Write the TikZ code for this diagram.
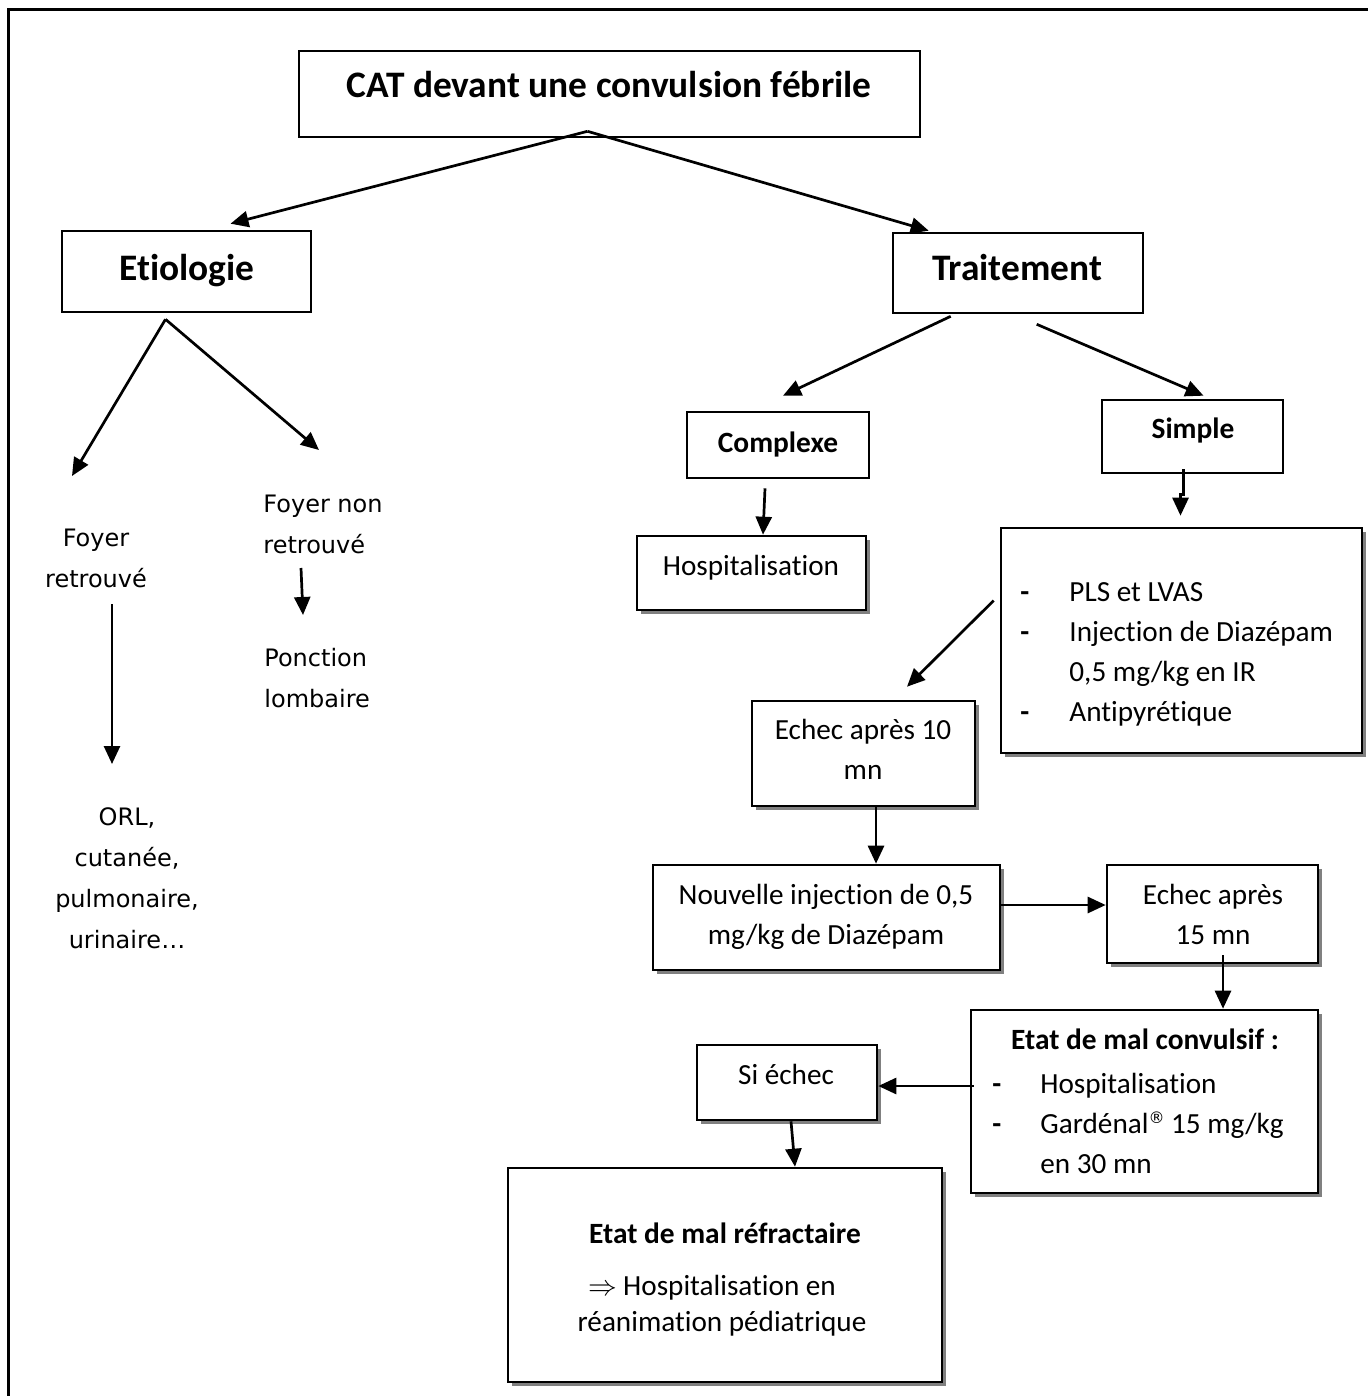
\documentclass[tikz,border=0pt]{standalone}
\usepackage{fontspec}
\setmainfont{Carlito}[Ligatures=NoCommon]
\newfontfamily\verd{DejaVu Sans}
\usetikzlibrary{arrows.meta,fit,shadows}

% multi-line text blocks: centred or left-aligned, baseline at the first line
\newcommand{\mlines}[1]{\begin{tabular}[t]{@{}c@{}}#1\end{tabular}}
\newcommand{\mlinesl}[1]{\begin{tabular}[t]{@{}l@{}}#1\end{tabular}}
\newcommand{\regmark}{\raisebox{0.33em}{\verd\fontsize{8}{8}\selectfont ®}}

\begin{document}
\begin{tikzpicture}[x=0.5pt,y=-0.5pt,
  box/.style={draw, line width=1.3pt, inner sep=0pt, fill=white},
  sbox/.style={box, drop shadow={shadow xshift=2pt, shadow yshift=-2pt, fill=black!50, opacity=1}},
  arr/.style={line width=1.35pt, -{Triangle[length=9pt,width=8pt]}},
  head/.style={font=\fontsize{18.7}{22}\selectfont\bfseries, anchor=base, inner sep=0pt},
  sub/.style={font=\fontsize{14.7}{20}\selectfont\bfseries, anchor=base, inner sep=0pt},
  txt/.style={font=\fontsize{14.6}{20}\selectfont, anchor=base, inner sep=0pt},
  vtxt/.style={font=\verd\fontsize{12}{20.5}\selectfont, anchor=base, inner sep=0pt},
]
\useasboundingbox (0,0) rectangle (1368,1396);

% page frame (open on the right and at the bottom)
\draw[line width=1.5pt] (8,1396) -- (8,10) -- (1368,10);

% ---------- boxes ----------
\node[box,  fit={(299,51) (920,137)}]    (title) {};
\node[box,  fit={(62,231) (311,312)}]    (etio)  {};
\node[box,  fit={(893,233) (1143,313)}]  (trait) {};
\node[box,  fit={(687,412) (869,478)}]   (comp)  {};
\node[box,  fit={(1102,400) (1283,473)}] (simp)  {};
\node[sbox, fit={(637,536) (866,610)}]   (hosp)  {};
\node[sbox, fit={(1001,528) (1362,753)}] (list)  {};
\node[sbox, fit={(752,701) (975,806)}]   (ech10) {};
\node[sbox, fit={(653,865) (1000,970)}]  (nouv)  {};
\node[sbox, fit={(1107,865) (1318,963)}] (ech15) {};
\node[sbox, fit={(971,1010) (1318,1193)}] (etat) {};
\node[sbox, fit={(697,1045) (877,1120)}] (si)    {};
\node[sbox, fit={(508,1168) (942,1382)}] (refr)  {};

% ---------- texts in boxes ----------
\node[head] (ttitle) at (609,98)  {CAT devant une convulsion fébrile};
\node[head] (tetio)  at (187,280) {Etiologie};
\node[head] (ttrait) at (1017,280) {Traitement};
\node[sub]  (tcomp)  at (778,452) {Complexe};
\node[sub]  (tsimp)  at (1193,438) {Simple};
\node[txt]  (thosp)  at (751,575) {Hospitalisation};

\node[txt, anchor=base west] (ldash) at (1020,601) {\mlinesl{\textbf{-}\\\textbf{-}\\ \\\textbf{-}}};
\node[txt, anchor=base west] (ltext) at (1069,601)
  {\mlinesl{PLS et LVAS\\Injection de Diazépam\\0,5 mg/kg en IR\\Antipyrétique}};

\node[txt] (tech10) at (863,739)  {\mlines{Echec après 10\\mn}};
\node[txt] (tnouv)  at (826,904)  {\mlines{Nouvelle injection de 0,5\\mg/kg de Diazépam}};
\node[txt] (tech15) at (1213,904) {\mlines{Echec après\\15 mn}};

\node[sub] (tetat) at (1145,1049) {Etat de mal convulsif :};
\node[txt, anchor=base west] (edash) at (992,1093) {\mlinesl{\textbf{-}\\\textbf{-}}};
\node[txt, anchor=base west] (etext) at (1040,1093)
  {\mlinesl{Hospitalisation\\Gardénal\regmark{} 15 mg/kg\\en 30 mn}};

\node[txt] (tsi) at (786,1084) {Si échec};

\node[sub] (trefr) at (725,1243) {Etat de mal réfractaire};
\node[txt, anchor=base west] (trefa) at (588,1295) {$\Rightarrow$\hspace{3pt}Hospitalisation en};
\node[txt] (trefb) at (722,1331) {réanimation pédiatrique};

% ---------- free texts (etiology branch) ----------
\node[vtxt] (foyr) at (96,546) {\mlines{Foyer\\retrouvé}};
\node[vtxt] (orl)  at (127,825) {\mlines{ORL,\\cutanée,\\pulmonaire,\\urinaire…}};
\node[vtxt, anchor=base west] (foyn) at (263,512) {\mlinesl{Foyer non\\retrouvé}};
\node[vtxt, anchor=base west] (ponc) at (264,666) {\mlinesl{Ponction\\lombaire}};

% ---------- connector end points ----------
\coordinate (apex)  at ([shift={(-22,-7)}]title.south);
\coordinate (eapex) at ([shift={(-21,6)}]etio.south);
\coordinate (fr-in)  at (72,476);
\coordinate (fn-in)  at (319,450);
\coordinate (fr-out) at (112,604);
\coordinate (orl-in) at (112,764);
\coordinate (fn-out) at (301,568);
\coordinate (po-in)  at (303,615);
\coordinate (s-out)  at ([shift={(-9,-5)}]simp.south);

% ---------- connectors ----------
\draw[arr] (apex) -- ([shift={(44,-6)}]etio.north);
\draw[arr] (apex) -- ([shift={(37,-1)}]trait.north west);

\draw[arr] (eapex) -- (fr-in);
\draw[arr] (eapex) -- (fn-in);
\draw[arr] (fr-out) -- (orl-in);
\draw[arr] (fn-out) -- (po-in);

\draw[arr] ([shift={(59,2)}]trait.south west) -- ([shift={(5,-15)}]comp.north);
\draw[arr] ([shift={(145,10)}]trait.south west) -- ([shift={(11,-3)}]simp.north);
\draw[arr] ([shift={(-13,9)}]comp.south) -- ([shift={(11.5,0)}]hosp.north);
\draw[arr] (s-out) -- ++(0,25) -| ([shift={(-1,-11)}]list.north);
\draw[arr] ([shift={(-6,-40)}]list.west) -- ([shift={(43.5,-13)}]ech10.north);
\draw[arr] ([shift={(12.5,0)}]ech10.south) -- ([shift={(49.5,0)}]nouv.north);
\draw[arr] ([shift={(0,-12.5)}]nouv.east) -- ([shift={(0,-9)}]ech15.west);
\draw[arr] ([shift={(10.5,-9)}]ech15.south) -- ([shift={(78.5,0)}]etat.north);
\draw[arr] ([shift={(4,-15.5)}]etat.west) -- ([shift={(0,3.5)}]si.east);
\draw[arr] ([shift={(4,0)}]si.south) -- ([shift={(70,0)}]refr.north);
\end{tikzpicture}
\end{document}
